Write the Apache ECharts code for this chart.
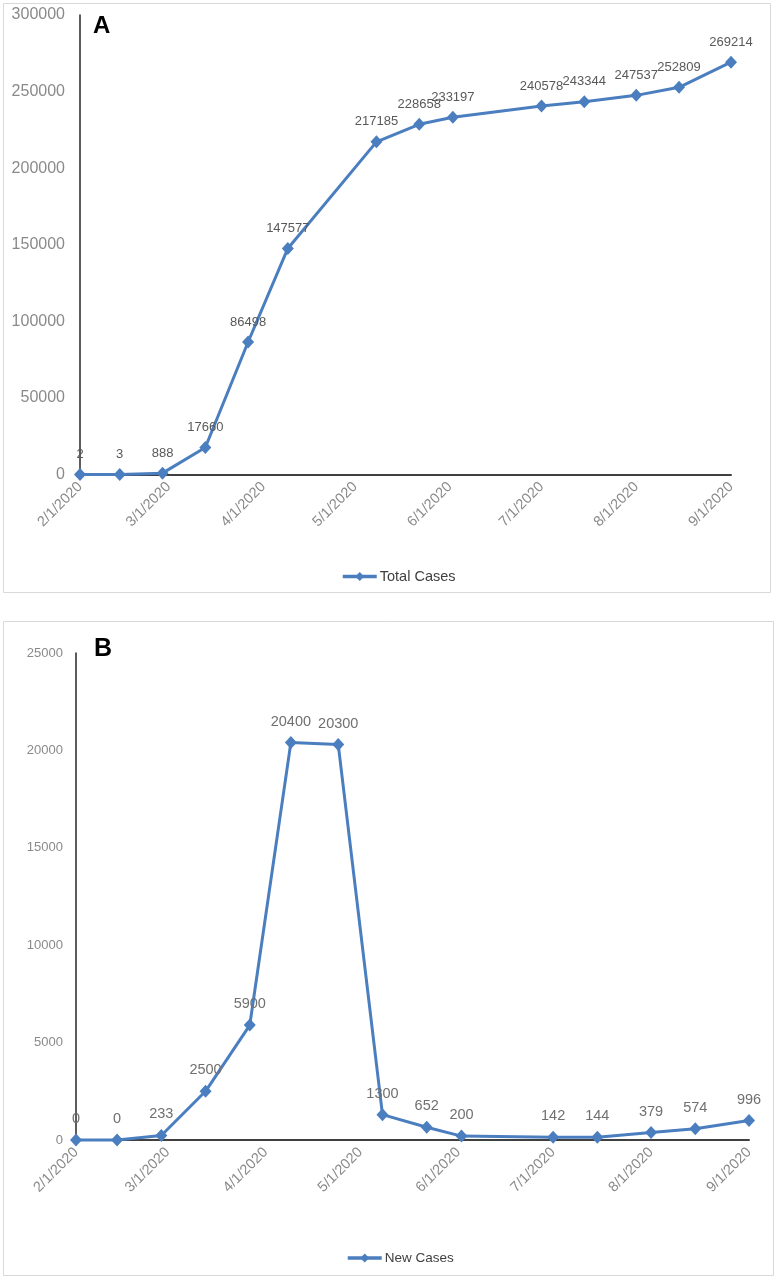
<!DOCTYPE html>
<html>
<head>
<meta charset="utf-8">
<script src="https://cdn.jsdelivr.net/npm/echarts@6/dist/echarts.min.js"></script>
<style>
html,body{margin:0;padding:0;background:#fff;}
#chart{width:779px;height:1282px;}
</style>
</head>
<body>
<div id="chart"></div>
<script>
// ---- Data ----
const totalDates = ['2020-02-01','2020-02-14','2020-02-28','2020-03-13','2020-03-27','2020-04-09','2020-05-08','2020-05-22','2020-06-02','2020-07-01','2020-07-15','2020-08-01','2020-08-15','2020-09-01'];
const totalCases = [2,3,888,17660,86498,147577,217185,228658,233197,240578,243344,247537,252809,269214];
const newDates = ['2020-02-01','2020-02-14','2020-02-28','2020-03-13','2020-03-27','2020-04-09','2020-04-24','2020-05-08','2020-05-22','2020-06-02','2020-07-01','2020-07-15','2020-08-01','2020-08-15','2020-09-01'];
const newCases = [0,0,233,2500,5900,20400,20300,1300,652,200,142,144,379,574,996];
const axisStart = '2020-02-01';
const axisEnd = '2020-09-01';
const totalYTicks = [0,300000,50000];   // min, max, interval
const newYTicks = [0,25000,5000];
const seriesNames = ['Total Cases','New Cases'];

function ts(s){const p=s.split('-').map(Number);return new Date(p[0],p[1]-1,p[2]).getTime();}
function fmtDate(v){const d=new Date(v);return (d.getMonth()+1)+'/'+d.getDate()+'/'+d.getFullYear();}

const FONT = '"Liberation Sans", Arial, sans-serif';
const BLUE = '#4a7ebf';
const DAY = 86400000;

function xAxisCfg(gi){
  return {
    type:'time', gridIndex:gi, min:ts(axisStart), max:ts(axisEnd),
    splitNumber:7, minInterval:28*DAY, maxInterval:31*DAY,
    axisLine:{show:true,onZero:true,lineStyle:{color:'#404040',width:2}},
    axisTick:{show:false},
    splitLine:{show:false},
    axisLabel:{rotate:45,margin:10,fontSize:14.5,color:'#8a8a8a',fontFamily:FONT,
      formatter:fmtDate, showMinLabel:true, showMaxLabel:true, hideOverlap:false}
  };
}
function yAxisCfg(gi,t,fs,margin){
  return {
    type:'value', gridIndex:gi, min:t[0], max:t[1], interval:t[2],
    axisLine:{show:true,lineStyle:{color:'#262626',width:1.5}},
    axisTick:{show:false},
    splitLine:{show:false},
    axisLabel:{fontSize:fs,color:'#8a8a8a',fontFamily:FONT,margin:margin,formatter:v=>String(v)}
  };
}
function seriesCfg(name,gi,dates,vals,labelFs,labelColor){
  return {
    name:name, type:'line', xAxisIndex:gi, yAxisIndex:gi,
    data:dates.map((d,i)=>[ts(d),vals[i]]),
    symbol:'diamond', symbolSize:[12,13],
    lineStyle:{color:BLUE,width:3},
    itemStyle:{color:BLUE},
    label:{show:true,position:'top',distance:7,fontSize:labelFs,color:labelColor,fontFamily:FONT},
    clip:false, animation:false
  };
}

const chart = echarts.init(document.getElementById('chart'), null, {renderer:'canvas'});
chart.setOption({
  animation:false,
  backgroundColor:'#fff',
  grid:[
    {left:80,top:15,width:651,height:459.5},
    {left:76,top:653,width:673,height:487}
  ],
  xAxis:[xAxisCfg(0),xAxisCfg(1)],
  yAxis:[yAxisCfg(0,totalYTicks,16,15),yAxisCfg(1,newYTicks,13,13)],
  legend:[
    {data:[seriesNames[0]],left:336,top:564,itemWidth:34,itemHeight:11,
     lineStyle:{width:3.5},
     textStyle:{fontSize:14.5,color:'#404040',fontFamily:FONT,padding:[0,0,0,-2]}},
    {data:[seriesNames[1]],left:341,top:1246,itemWidth:34,itemHeight:11,
     lineStyle:{width:3.5},
     textStyle:{fontSize:13.5,color:'#404040',fontFamily:FONT,padding:[0,0,0,-2]}}
  ],
  graphic:[
    {type:'rect',shape:{x:3.5,y:3.5,width:767,height:589},style:{fill:null,stroke:'#d9d9d9',lineWidth:1},z:-1},
    {type:'rect',shape:{x:3.5,y:621.5,width:770,height:654},style:{fill:null,stroke:'#d9d9d9',lineWidth:1},z:-1},
    {type:'text',left:93,top:14,style:{text:'A',font:'bold 24px "Liberation Sans", Arial, sans-serif',fill:'#000'}},
    {type:'text',left:94,top:637,style:{text:'B',font:'bold 25px "Liberation Sans", Arial, sans-serif',fill:'#000'}}
  ],
  series:[
    seriesCfg(seriesNames[0],0,totalDates,totalCases,13,'#595959'),
    seriesCfg(seriesNames[1],1,newDates,newCases,14.5,'#707070')
  ]
});
</script>
</body>
</html>
